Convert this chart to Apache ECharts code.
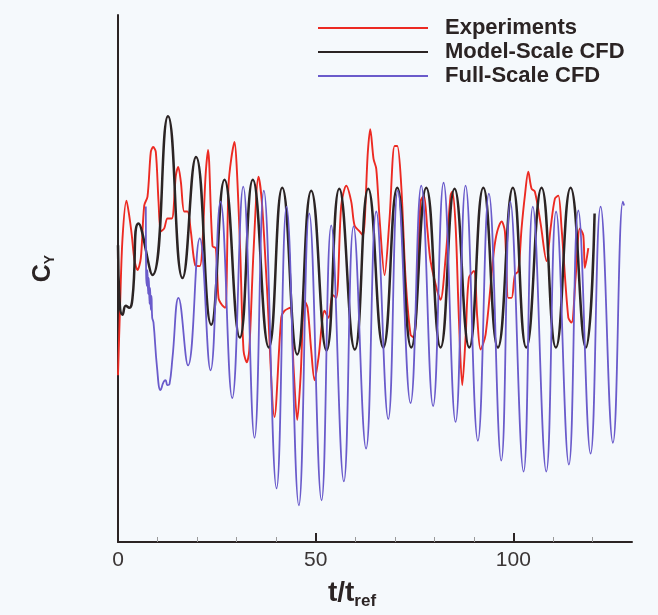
<!DOCTYPE html>
<html>
<head>
<meta charset="utf-8">
<script src="https://cdn.jsdelivr.net/npm/echarts@6/dist/echarts.min.js"></script>
<style>
  html, body { margin: 0; padding: 0; background: #f5f9fc; }
  #chart { width: 658px; height: 615px; }
</style>
</head>
<body>
<div id="chart"></div>
<script>
// Side-force coefficient C_Y against non-dimensional time t/t_ref

// Experiments
const tExp = [0, 0.51, 1.14, 2.15, 2.83, 3.49, 4.17, 4.93, 5.77, 6.63, 7.46, 8.30, 8.90, 9.56, 10.25, 10.83, 11.69, 12.52, 13.61, 14.62, 15.23, 15.89, 16.75, 17.58, 18.42, 19.53, 20.69, 22.21, 22.77, 23.91, 24.74, 25.42, 26.26, 27.12, 27.95, 28.64, 29.47, 30.05, 30.91, 31.75, 32.58, 33.19, 34.28, 35.54, 36.38, 37.64, 39.59, 41.29, 42.12, 43.56, 44.40, 45.33, 46.17, 47.18, 47.94, 48.87, 49.71, 50.72, 52.24, 53.25, 54.26, 55.20, 56.46, 57.73, 58.99, 59.83, 61.09, 61.93, 63.19, 63.80, 64.63, 65.32, 66.15, 67.42, 68.68, 69.95, 70.63, 71.64, 72.73, 73.99, 74.83, 76.52, 77.36, 78.22, 79.05, 80.75, 81.58, 82.85, 84.11, 84.54, 85.38, 86.21, 87.07, 87.91, 88.74, 90.01, 90.87, 91.70, 92.97, 95.07, 95.93, 97.02, 97.85, 98.71, 99.54, 100.38, 101.24, 102.07, 102.91, 103.77, 104.60, 105.44, 106.88, 108.40, 109.41, 110.50, 111.36, 112.19, 113.89, 114.72, 115.73, 116.82, 117.68, 118.08, 118.95];
const cyExp = [1.68, 2.36, 3.06, 3.44, 3.29, 3.09, 2.84, 2.74, 2.86, 3.39, 3.48, 3.93, 3.98, 3.93, 3.43, 3.13, 3.16, 3.26, 3.26, 3.69, 3.78, 3.63, 3.33, 3.33, 3.13, 2.79, 2.78, 3.73, 3.95, 2.98, 2.96, 2.46, 2.39, 2.36, 3.59, 3.86, 4.03, 3.76, 2.93, 1.93, 1.81, 1.93, 2.93, 3.68, 3.43, 2.59, 1.26, 2.26, 2.33, 2.36, 1.76, 1.23, 1.66, 2.43, 2.36, 1.93, 1.63, 1.86, 2.33, 2.26, 2.49, 2.46, 3.39, 3.59, 3.43, 3.19, 3.13, 3.09, 3.93, 4.16, 3.86, 3.76, 3.26, 2.69, 3.26, 3.99, 3.99, 3.59, 2.66, 2.09, 2.06, 3.43, 3.49, 3.16, 2.83, 2.53, 2.44, 2.86, 3.49, 3.53, 3.19, 2.26, 1.58, 2.06, 2.66, 2.73, 2.26, 1.94, 2.09, 2.93, 3.13, 3.23, 3.13, 2.46, 2.46, 2.69, 2.73, 3.16, 3.49, 3.73, 3.56, 3.53, 3.21, 2.83, 3.16, 3.46, 3.49, 3.16, 2.26, 2.21, 2.66, 3.16, 3.09, 2.76, 2.96];

// Model-scale CFD
const tModel = [0, 0.46, 1.14, 1.97, 2.83, 3.67, 5.19, 8.73, 12.65, 16.32, 19.73, 23.58, 26.94, 30.81, 34.10, 38.15, 41.54, 45.33, 48.87, 52.74, 55.96, 59.90, 63.29, 67.09, 70.63, 74.17, 77.97, 81.58, 85.12, 88.84, 92.39, 96.08, 99.87, 103.26, 107.13, 110.75, 114.47, 118.34, 120.54];
const cyModel = [2.99, 2.39, 2.29, 2.38, 2.36, 2.46, 3.21, 2.69, 4.29, 2.66, 3.88, 2.19, 3.65, 2.06, 3.65, 1.96, 3.57, 1.89, 3.54, 1.93, 3.56, 1.94, 3.56, 1.96, 3.57, 1.96, 3.57, 1.96, 3.56, 1.96, 3.57, 1.96, 3.57, 1.96, 3.57, 1.96, 3.57, 1.96, 3.31];

// Full-scale CFD
const tFull = [7.03, 7.11, 7.29, 7.46, 7.61, 7.79, 7.97, 8.12, 8.30, 8.47, 8.65, 8.98, 9.87, 10.75, 11.51, 12.02, 12.52, 13.03, 13.79, 15.30, 17.71, 20.67, 23.40, 25.93, 28.89, 31.67, 34.53, 36.88, 40.10, 42.63, 45.74, 48.37, 51.48, 53.93, 57.12, 59.58, 62.74, 65.32, 68.35, 70.78, 73.99, 76.70, 79.69, 82.34, 85.38, 87.91, 91.02, 93.80, 96.94, 99.22, 102.58, 104.91, 108.32, 110.80, 114.04, 116.42, 119.53, 122.06, 125.17, 127.70, 128.00];
const cyFull = [3.38, 2.71, 2.58, 2.74, 2.50, 2.66, 2.40, 2.56, 2.34, 2.48, 2.26, 2.21, 1.76, 1.53, 1.61, 1.63, 1.58, 1.59, 1.86, 2.46, 1.78, 3.06, 1.73, 3.43, 1.45, 3.58, 1.05, 3.54, 0.54, 3.38, 0.37, 3.31, 0.42, 3.19, 0.61, 3.18, 0.94, 3.33, 1.24, 3.54, 1.40, 3.59, 1.37, 3.62, 1.21, 3.59, 1.02, 3.51, 0.82, 3.43, 0.71, 3.38, 0.71, 3.33, 0.78, 3.34, 0.89, 3.38, 1.00, 3.43, 3.39];

// Axis ticks and labels
const majorTicks = [0, 50, 100];
const minorTicks = [10, 20, 30, 40, 60, 70, 80, 90, 110, 120];
const seriesNames = ['Experiments', 'Model-Scale CFD', 'Full-Scale CFD'];

const zip = (xs, ys) => xs.map((x, i) => [x, ys[i]]);
const FONT = '"Liberation Sans", Arial, Helvetica, sans-serif';
const INK = '#2b2424';

const chart = echarts.init(document.getElementById('chart'), null, { renderer: 'canvas' });

chart.setOption({
  backgroundColor: '#f5f9fc',
  animation: false,
  grid: { left: 118, right: 26, top: 15, bottom: 69, containLabel: false },
  legend: {
    data: seriesNames,
    orient: 'vertical',
    left: 313,
    top: 12,
    icon: 'rect',
    itemWidth: 110,
    itemHeight: 2,
    itemGap: 2,
    textStyle: {
      fontFamily: FONT, fontSize: 22, fontWeight: 'bold', color: INK,
      lineHeight: 22, padding: [0, 0, 0, 12]
    }
  },
  xAxis: [
    {
      type: 'value', position: 'bottom', min: 0, max: 130,
      name: '{a|t/t}{b|ref}', nameLocation: 'middle', nameGap: 37,
      nameTextStyle: {
        padding: [0, 46, 0, 0],
        rich: {
          a: { fontFamily: FONT, fontSize: 28, fontWeight: 'bold', color: INK, lineHeight: 28, verticalAlign: 'top' },
          b: { fontFamily: FONT, fontSize: 17, fontWeight: 'bold', color: INK, lineHeight: 18, verticalAlign: 'top', padding: [14, 0, 0, 0] }
        }
      },
      axisLine: { show: true, lineStyle: { color: INK, width: 2 } },
      axisTick: { show: true, inside: true, length: 9, customValues: majorTicks, lineStyle: { color: INK, width: 2 } },
      axisLabel: { customValues: majorTicks, margin: 8, fontFamily: FONT, fontSize: 21, color: '#3a3535' },
      splitLine: { show: false }
    },
    {
      type: 'value', position: 'bottom', min: 0, max: 130,
      axisLine: { show: false },
      axisTick: { show: true, inside: true, length: 5, customValues: minorTicks, lineStyle: { color: '#9a9a9a', width: 1 } },
      axisLabel: { show: false },
      splitLine: { show: false }
    }
  ],
  yAxis: {
    type: 'value', min: 0, max: 5.31,
    name: '{a|C}{b|Y}', nameLocation: 'middle', nameRotate: 90, nameGap: 62,
    nameTextStyle: {
      padding: [0, 0, 0, 20],
      rich: {
        a: { fontFamily: FONT, fontSize: 25, fontWeight: 'bold', color: INK, lineHeight: 25, verticalAlign: 'top' },
        b: { fontFamily: FONT, fontSize: 14, fontWeight: 'bold', color: INK, lineHeight: 16, verticalAlign: 'top', padding: [12, 0, 0, 0] }
      }
    },
    axisLine: { show: true, lineStyle: { color: INK, width: 2 } },
    axisTick: { show: false },
    axisLabel: { show: false },
    splitLine: { show: false }
  },
  series: [
    {
      name: seriesNames[0], type: 'line', data: zip(tExp, cyExp),
      smooth: 0.3, symbol: 'none', color: '#ec2a22',
      lineStyle: { color: '#ec2a22', width: 1.9 }
    },
    {
      name: seriesNames[1], type: 'line', data: zip(tModel, cyModel),
      smooth: 0.5, symbol: 'none', color: INK,
      lineStyle: { color: INK, width: 2.5 }
    },
    {
      name: seriesNames[2], type: 'line', data: zip(tFull, cyFull),
      smooth: 0.45, symbol: 'none', color: '#6a5bcb',
      lineStyle: { color: '#6a5bcb', width: 1.8 }
    }
  ]
});
</script>
</body>
</html>
